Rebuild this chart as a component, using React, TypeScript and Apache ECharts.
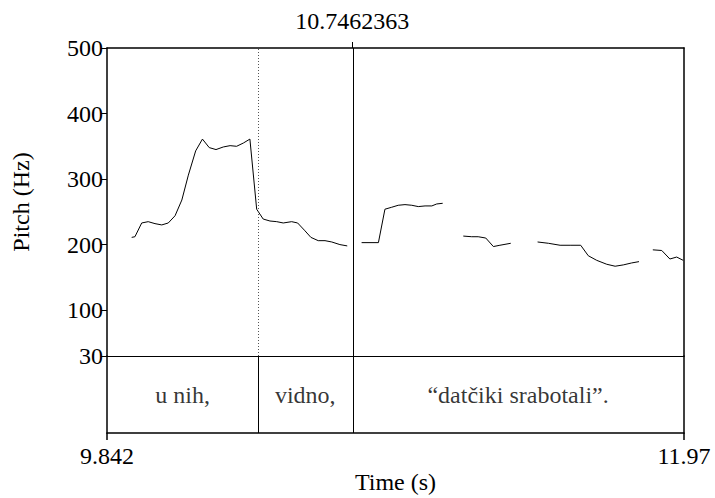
import React, { useEffect, useRef } from "react";
import * as echarts from "echarts";

// Pitch contour (time in s, pitch in Hz); null marks an unvoiced gap
const pitchTimes = [
  9.933, 9.945, 9.970, 9.994, 10.019, 10.044, 10.068, 10.093, 10.118, 10.142,
  10.169, 10.194, 10.219, 10.244, 10.271, 10.296, 10.320, 10.345, 10.369, 10.394,
  10.418, 10.443, 10.468, 10.492, 10.523, 10.545, 10.570, 10.594, 10.621, 10.646,
  10.671, 10.701, 10.728,
  10.755,
  10.781, 10.843, 10.867, 10.892, 10.916, 10.941, 10.966, 10.990, 11.015, 11.040,
  11.058, 11.080,
  11.120,
  11.156, 11.187, 11.211, 11.239, 11.267, 11.291, 11.331,
  11.380,
  11.430, 11.470, 11.513, 11.550, 11.589, 11.617, 11.648, 11.685, 11.716, 11.746,
  11.777, 11.804,
  11.830,
  11.855, 11.888, 11.918, 11.943, 11.967,
];
const pitchHz: (number | null)[] = [
  211, 212, 233, 235, 232, 230, 233, 244, 268, 306,
  343, 361, 348, 345, 349, 351, 350, 355, 361, 254,
  239, 236, 235, 233, 235, 233, 222, 211, 206, 206,
  204, 200, 198,
  null,
  203, 203, 254, 257, 260, 261, 260, 258, 259, 259,
  262, 263,
  null,
  213, 212, 212, 210, 197, 199, 202,
  null,
  204, 202, 199, 199, 199, 183, 176, 170, 167, 169,
  172, 174,
  null,
  192, 191, 178, 181, 176,
];

const tMin = 9.842;
const tMax = 11.97;
const cursorTime = 10.7462363;
const boundaryTimes = [10.4, 10.7462363];
const yTicks = [30, 100, 200, 300, 400, 500];
const xEndTicks = [9.842, 11.97];
const xEndLabels = ["9.842", "11.97"];
const intervalLabels = ["u nih,", "vidno,", "\u201Cdat\u010Diki srabotali\u201D."];
const intervalEdges = [9.842, 10.4, 10.7462363, 11.97];

const FONT = "Liberation Serif, serif";

export default function App() {
  const ref = useRef<HTMLDivElement>(null);
  useEffect(() => {
    if (!ref.current) return;
    const chart = echarts.init(ref.current, null, { renderer: "svg" });
    const pitchData = pitchTimes.map((t, i) => [t, pitchHz[i] === null ? "-" : pitchHz[i]]);
    const labelData = intervalLabels.map((name, i) => ({
      name,
      value: [(intervalEdges[i] + intervalEdges[i + 1]) / 2, 0.5],
    }));
    const thick = { show: true, lineStyle: { color: "#000", width: 1.5 } };
    const textStyle = { color: "#000", fontFamily: FONT, fontSize: 24 };
    chart.setOption({
      animation: false,
      backgroundColor: "#fff",
      grid: [
        { left: 107, top: 48, width: 577, height: 308 },
        { left: 107, top: 356, width: 577, height: 77 },
      ],
      xAxis: [
        {
          gridIndex: 0, type: "value", min: tMin, max: tMax, position: "bottom",
          axisLine: { show: true, onZero: false, lineStyle: { color: "#000", width: 1 } },
          axisTick: { show: false }, axisLabel: { show: false }, splitLine: { show: false },
        },
        {
          gridIndex: 0, type: "value", min: tMin, max: tMax, position: "top",
          axisLine: { ...thick, onZero: false },
          axisTick: { show: true, length: 6, customValues: [cursorTime], lineStyle: { color: "#000", width: 1 } },
          axisLabel: {
            show: true, customValues: [cursorTime], margin: 15, ...textStyle,
            formatter: (v: number) => v.toFixed(7),
          },
          splitLine: { show: false },
        },
        {
          gridIndex: 1, type: "value", min: tMin, max: tMax, position: "bottom",
          axisLine: { ...thick, onZero: false },
          axisTick: { show: true, length: 7, customValues: xEndTicks, lineStyle: { color: "#000", width: 1.5 } },
          axisLabel: {
            show: true, customValues: xEndTicks, margin: 11, ...textStyle,
            formatter: (v: number) => {
              const i = xEndTicks.findIndex((x) => Math.abs(x - v) < 1e-6);
              return i >= 0 ? xEndLabels[i] : "";
            },
          },
          splitLine: { show: false },
          name: "Time (s)", nameLocation: "middle", nameGap: 37,
          nameTextStyle: textStyle,
        },
      ],
      yAxis: [
        {
          gridIndex: 0, type: "value", min: 30, max: 500, position: "left",
          axisLine: { ...thick, onZero: false },
          axisTick: { show: true, length: 6, customValues: yTicks, lineStyle: { color: "#000", width: 1 } },
          axisLabel: { show: true, customValues: yTicks, margin: 4, ...textStyle },
          splitLine: { show: false },
          name: "Pitch (Hz)", nameLocation: "middle", nameGap: 74, nameRotate: 90,
          nameTextStyle: textStyle,
        },
        {
          gridIndex: 0, type: "value", min: 30, max: 500, position: "right",
          axisLine: { ...thick, onZero: false },
          axisTick: { show: false }, axisLabel: { show: false }, splitLine: { show: false },
        },
        {
          gridIndex: 1, type: "value", min: 0, max: 1, position: "left",
          axisLine: { ...thick, onZero: false },
          axisTick: { show: false }, axisLabel: { show: false }, splitLine: { show: false },
        },
        {
          gridIndex: 1, type: "value", min: 0, max: 1, position: "right",
          axisLine: { ...thick, onZero: false },
          axisTick: { show: false }, axisLabel: { show: false }, splitLine: { show: false },
        },
      ],
      series: [
        {
          type: "line", xAxisIndex: 0, yAxisIndex: 0, data: pitchData,
          showSymbol: false, symbol: "none", connectNulls: false,
          lineStyle: { color: "#000", width: 1 },
          markLine: {
            silent: true, symbol: "none", label: { show: false },
            data: [
              { xAxis: boundaryTimes[0], lineStyle: { color: "#555", width: 1, type: [1, 2] } },
              { xAxis: cursorTime, lineStyle: { color: "#000", width: 1, type: "solid" } },
            ],
          },
        },
        {
          type: "scatter", xAxisIndex: 2, yAxisIndex: 2, data: labelData,
          symbolSize: 0,
          label: {
            show: true, position: "inside", formatter: (p: any) => p.name, ...textStyle,
          },
          markLine: {
            silent: true, symbol: "none", label: { show: false },
            lineStyle: { color: "#000", width: 1, type: "solid" },
            data: boundaryTimes.map((t) => ({ xAxis: t })),
          },
        },
      ],
    });
    return () => chart.dispose();
  }, []);
  return <div ref={ref} style={{ width: 715, height: 498, position: "absolute", left: 0, top: 0 }} />;
}
